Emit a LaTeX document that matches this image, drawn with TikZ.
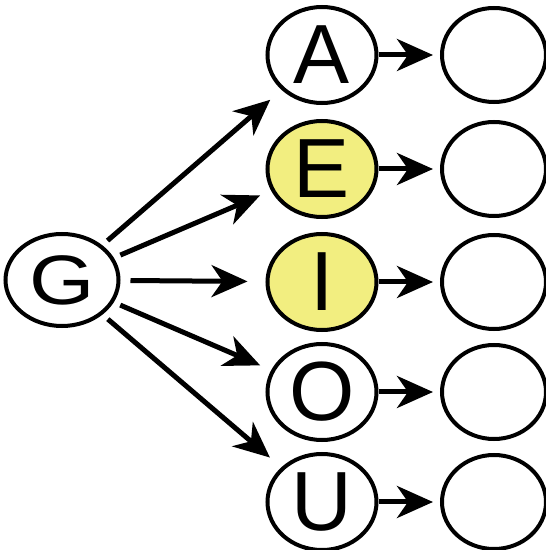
\documentclass[tikz,border=0pt]{standalone}
\usepackage{fontspec}
\setmainfont{Liberation Sans}
\usetikzlibrary{arrows.meta,shapes.geometric}
\definecolor{vowelyellow}{RGB}{242,238,128}

\begin{document}
\begin{tikzpicture}[x=1pt,y=1pt,
    letter/.style={ellipse,draw,line width=4pt,inner sep=0pt,
      minimum width=109pt,minimum height=96pt,font=\fontsize{84}{84}\selectfont},
    blank/.style={ellipse,draw,line width=4pt,inner sep=0pt,
      minimum width=104pt,minimum height=94pt},
    arr/.style={-{Stealth[length=36pt 0 0,width=32pt 0 0,inset=11pt 0]},line width=5pt}]
  \useasboundingbox (0,0) rectangle (546,550);
  % start node
  \node[letter,minimum width=113pt,minimum height=92pt] (G) at (62,270)
    {\fontsize{70}{70}\selectfont\scalebox{1.2}[1]{G}};
  % vowels
  \node[letter] (A) at (322,495) {A};
  \node[letter,fill=vowelyellow] (E) at (322,381) {E};
  \node[letter,fill=vowelyellow] (I) at (322,268) {I};
  \node[letter] (O) at (322,158) {O};
  \node[letter] (U) at (322,48) {U};
  % empty ones
  \begin{scope}[every node/.style={blank}]
    \node (A2) at (494,495) {};
    \node (E2) at (494,381) {};
    \node (I2) at (494,268) {};
    \node (O2) at (494,158) {};
    \node (U2) at (494,48) {};
  \end{scope}
  \begin{scope}[every edge/.style={draw,arr}]
    \path (G) edge[shorten <=7pt,shorten >=15pt] (A);
    \path (G) edge[shorten <=7pt,shorten >=12pt] (E);
    \path (G) edge[shorten <=10pt,shorten >=18pt] (I);
    \path (G) edge[shorten <=7pt,shorten >=12pt] (O);
    \path (G) edge[shorten <=7pt,shorten >=15pt] (U);
    \path (A) edge[shorten >=7pt] (A2);
    \path (E) edge[shorten >=7pt] (E2);
    \path (I) edge[shorten >=7pt] (I2);
    \path (O) edge[shorten >=7pt] (O2);
    \path (U) edge[shorten >=7pt] (U2);
  \end{scope}
\end{tikzpicture}
\end{document}
